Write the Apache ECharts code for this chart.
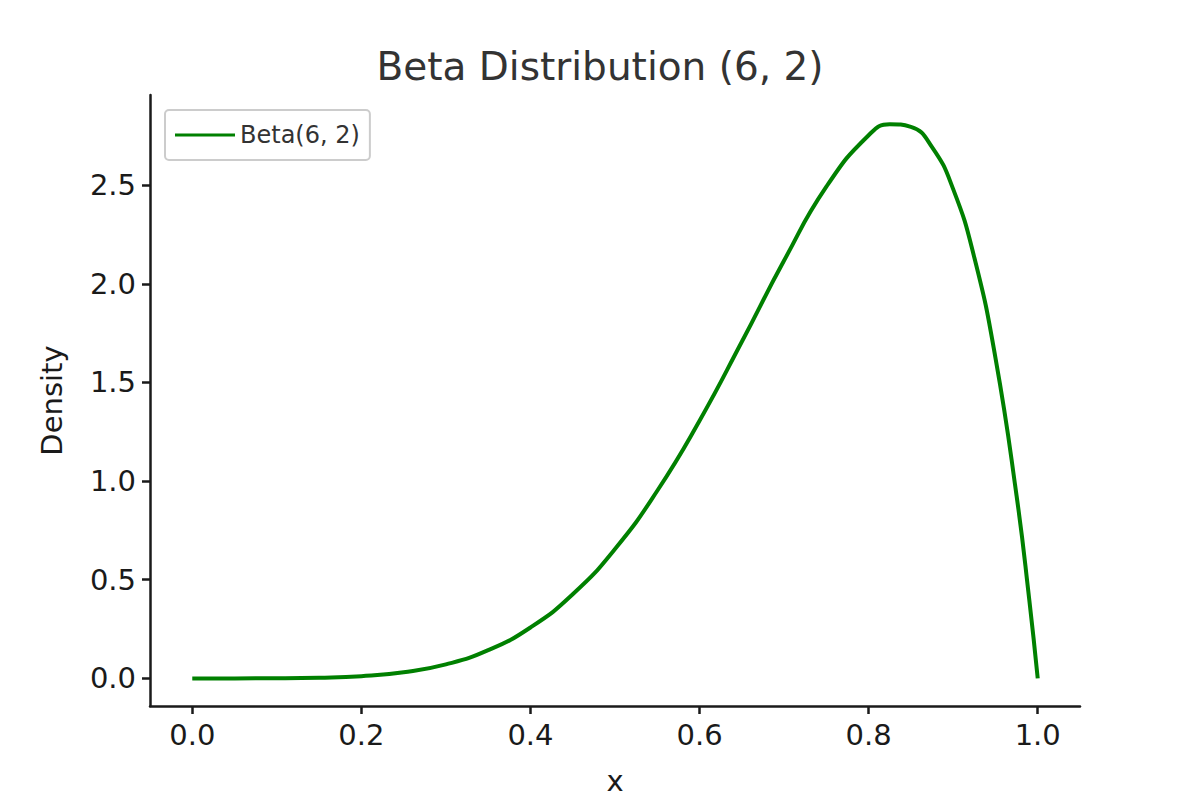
<!DOCTYPE html>
<html>
<head>
<meta charset="utf-8">
<script src="https://cdn.jsdelivr.net/npm/echarts@6/dist/echarts.min.js"></script>
<style>html,body{margin:0;background:#fff}#chart{width:1200px;height:800px}</style>
</head>
<body>
<div id="chart"></div>
<script>
// Values
var xValues = [0, 0.05, 0.1, 0.15, 0.2, 0.25, 0.3, 0.35, 0.4, 0.45, 0.5, 0.55, 0.6, 0.65, 0.7, 0.75, 0.8, 0.825, 0.85, 0.875, 0.9, 0.925, 0.95, 0.975, 0.99, 1.0];
var densityValues = [0, 0, 0.0004, 0.003, 0.011, 0.031, 0.071, 0.143, 0.258, 0.426, 0.656, 0.951, 1.306, 1.706, 2.118, 2.492, 2.753, 2.809, 2.795, 2.693, 2.480, 2.133, 1.625, 0.925, 0.399, 0];
var xTicks = [0, 0.2, 0.4, 0.6, 0.8, 1.0];
var yTicks = [0, 0.5, 1.0, 1.5, 2.0, 2.5];

var chart = echarts.init(document.getElementById('chart'), null, { renderer: 'svg' });
var font = 'DejaVu Sans';
var axisCommon = {
    axisLine: { show: true, onZero: false, lineStyle: { color: '#1a1a1a', width: 2.5 } },
    splitLine: { show: false },
    nameTextStyle: { fontFamily: font, fontSize: 29, color: '#1a1a1a' }
};
var tickStyle = { show: true, inside: false, length: 8, lineStyle: { color: '#1a1a1a', width: 2.5 } };
chart.setOption({
    animation: false,
    title: {
        text: 'Beta Distribution (6, 2)', left: 'center', top: 42,
        textStyle: { fontFamily: font, fontSize: 39, fontWeight: 'normal', color: '#333' }
    },
    legend: {
        left: 165, top: 110, padding: [13, 10, 13, 10],
        borderColor: '#ccc', borderWidth: 2, borderRadius: 4,
        itemWidth: 60, itemHeight: 3, itemGap: 10,
        textStyle: { fontFamily: font, fontSize: 24, color: '#333' },
        data: [{ name: 'Beta(6, 2)', icon: 'rect' }]
    },
    grid: { left: 150, right: 120, top: 95, bottom: 88, containLabel: false },
    xAxis: Object.assign({}, axisCommon, {
        type: 'value', min: -0.05, max: 1.05,
        name: 'x', nameLocation: 'middle', nameGap: 60,
        axisTick: Object.assign({ customValues: xTicks }, tickStyle),
        axisLabel: { customValues: xTicks, fontFamily: font, fontSize: 29, color: '#1a1a1a', margin: 14,
            formatter: function (v) { return v.toFixed(1); } }
    }),
    yAxis: Object.assign({}, axisCommon, {
        type: 'value', min: -0.14, max: 2.957,
        name: 'Density', nameLocation: 'middle', nameGap: 84,
        axisTick: Object.assign({ customValues: yTicks }, tickStyle),
        axisLabel: { customValues: yTicks, fontFamily: font, fontSize: 29, color: '#1a1a1a', margin: 14,
            formatter: function (v) { return v.toFixed(1); } }
    }),
    series: [{
        name: 'Beta(6, 2)', type: 'line', smooth: 0.5, showSymbol: false,
        lineStyle: { color: '#008000', width: 4 }, itemStyle: { color: '#008000' },
        data: xValues.map(function (x, i) { return [x, densityValues[i]]; })
    }]
});
</script>
</body>
</html>
